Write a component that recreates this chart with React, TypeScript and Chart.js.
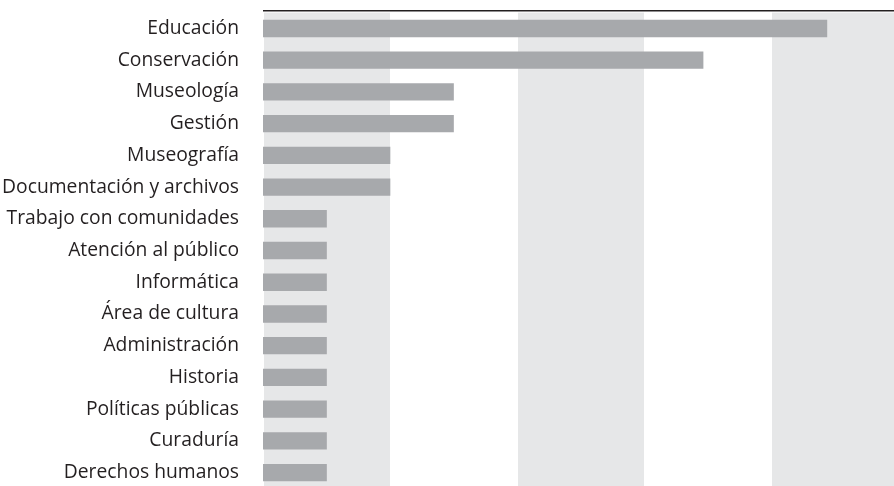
import React, { useEffect, useRef } from "react";
import { Chart, registerables } from "chart.js";

Chart.register(...registerables);

const categories = [
  "Educación",
  "Conservación",
  "Museología",
  "Gestión",
  "Museografía",
  "Documentación y archivos",
  "Trabajo con comunidades",
  "Atención al público",
  "Informática",
  "Área de cultura",
  "Administración",
  "Historia",
  "Políticas públicas",
  "Curaduría",
  "Derechos humanos",
];

const values = [8.88, 6.93, 3, 3, 2, 2, 1, 1, 1, 1, 1, 1, 1, 1, 1];

const bandStarts = [0, 4, 8];
const bandWidth = 2;

const bandsPlugin = {
  id: "bands",
  beforeDatasetsDraw(chart: any) {
    const { ctx, chartArea, scales } = chart;
    const x = scales.x;
    ctx.save();
    ctx.fillStyle = "#e6e7e8";
    for (const s of bandStarts) {
      const x0 = Math.max(x.getPixelForValue(s) + 1, chartArea.left);
      const x1 = Math.min(x.getPixelForValue(s + bandWidth), chartArea.right);
      if (x1 > x0) ctx.fillRect(x0, chartArea.top, x1 - x0, chartArea.bottom - chartArea.top + 10);
    }
    ctx.restore();
  },
  afterDatasetsDraw(chart: any) {
    const { ctx, chartArea } = chart;
    ctx.save();
    ctx.strokeStyle = "#231f20";
    ctx.lineWidth = 1.6;
    ctx.beginPath();
    ctx.moveTo(chartArea.left, chartArea.top - 1.9);
    ctx.lineTo(chartArea.right, chartArea.top - 1.9);
    ctx.stroke();
    ctx.restore();
  },
};

export default function App() {
  const ref = useRef<HTMLCanvasElement | null>(null);

  useEffect(() => {
    document.body.style.margin = "0";
    const canvas = ref.current!;
    const chart = new Chart(canvas, {
      type: "bar",
      data: {
        labels: categories,
        datasets: [
          {
            data: values,
            backgroundColor: "#a7a9ac",
            borderWidth: 0,
            barThickness: 16.7,
          },
        ],
      },
      options: {
        indexAxis: "y",
        animation: false,
        responsive: false,
        devicePixelRatio: 1,
        layout: { padding: { top: 12.6, bottom: 0, left: 0, right: 0 } },
        plugins: {
          legend: { display: false },
          tooltip: { enabled: false },
        },
        scales: {
          x: {
            display: false,
            min: 0,
            max: 9.937,
          },
          y: {
            grid: { display: false, drawTicks: true, tickLength: 24, color: "rgba(0,0,0,0)" },
            border: { display: false },
            ticks: {
              padding: 0,
              color: "#231f20",
              font: { family: "'Open Sans'", size: 19.3 },
            },
            afterFit(scale: any) {
              scale.width = 263;
            },
          },
        },
      },
      plugins: [bandsPlugin],
    });
    return () => chart.destroy();
  }, []);

  return (
    <div style={{ position: "absolute", left: 0, top: 0, width: 894, height: 486, overflow: "hidden" }}>
      <canvas ref={ref} width={894} height={500} style={{ width: 894, height: 500, display: "block" }} />
    </div>
  );
}
